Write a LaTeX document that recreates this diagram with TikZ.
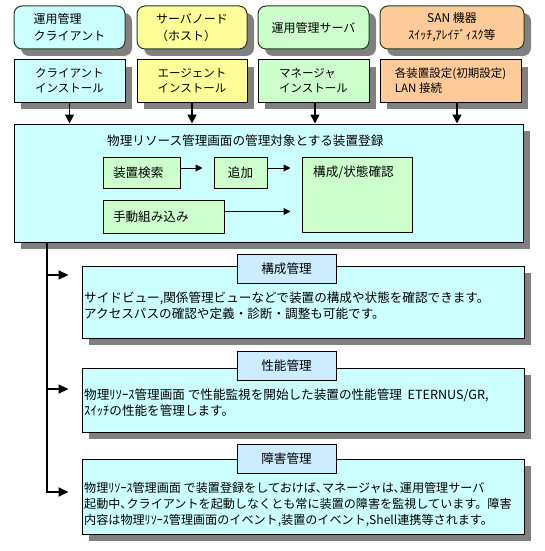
\documentclass[tikz,border=0pt]{standalone}
\usepackage{fontspec}
\setmainfont{Noto Sans CJK JP}
\usetikzlibrary{arrows.meta,shadows}
\definecolor{cyanbg}{HTML}{CCFFFF}
\definecolor{yelbg}{HTML}{FFFF99}
\definecolor{grnbg}{HTML}{CCFFCC}
\definecolor{orgbg}{HTML}{FFCC99}
\definecolor{tabbg}{HTML}{CCECFF}
\definecolor{shadowgray}{HTML}{808080}
\definecolor{rimgreen}{HTML}{1F3F1F}

\begin{document}
\begin{tikzpicture}[x=1pt,y=-1pt,
	shaded/.style={drop shadow={shadow xshift=7pt,shadow yshift=-7pt,fill=shadowgray,opacity=1}},
	role/.style={shaded,draw=rimgreen,line width=1pt,rounded corners=8pt,minimum height=43pt,align=left,font=\fontsize{12}{17}\selectfont},
	setup/.style={shaded,draw=black,line width=1pt,minimum height=42pt,align=left,font=\fontsize{11.5}{15}\selectfont},
	inbox/.style={draw=black,line width=1pt,fill=grnbg,align=left,inner xsep=10pt},
	tab/.style={draw=black,line width=1pt,fill=tabbg,minimum width=99pt,minimum height=29pt},
	toparr/.style={line width=1.5pt,-{Triangle[length=9pt,width=9pt]}},
	inarr/.style={line width=1pt,-{Triangle[length=7pt,width=7pt]},shorten >=11pt},
	secarr/.style={line width=2pt,-{Triangle[length=10pt,width=9pt]},shorten >=13pt}]
	\useasboundingbox (0,0) rectangle (544,551);
	\begin{scope}[font=\fontsize{12.6}{16}\selectfont]
		% roles
		\node[role,fill=cyanbg,minimum width=111pt] (cli) at (69.5,27.5) {運用管理\\クライアント};
		\node[role,fill=yelbg,minimum width=110pt] (host) at (192,27.5) {サーバノード\\（ホスト）};
		\node[role,fill=grnbg,minimum width=111pt] (mgr) at (313.5,27.5) {運用管理サーバ};
		\node[role,fill=orgbg,minimum width=144pt,align=center] (san) at (452,27.5) {SAN 機器\\ｽｲｯﾁ,ｱﾚｲﾃﾞｨｽｸ等};
		
		% installs
		\node[setup,fill=cyanbg,minimum width=111pt] (cli2) at (69.5,81) {クライアント\\インストール};
		\node[setup,fill=yelbg,minimum width=110pt] (host2) at (192,81) {エージェント\\インストール};
		\node[setup,fill=grnbg,minimum width=111pt] (mgr2) at (313.5,81) {マネージャ\\インストール};
		\node[setup,fill=orgbg,minimum width=141pt] (san2) at (450.5,81) {各装置設定(初期設定)\\LAN 接続};
		
		% registration
		\node[shaded,draw=black,line width=1pt,fill=cyanbg,minimum width=509pt,minimum height=118pt] (main) at (268.5,183) {};
		\node[anchor=west,inner sep=0pt] (regtitle) at (107,141) {物理リソース管理画面の管理対象とする装置登録};
		\node[inbox,text width=57pt,minimum height=31pt] (search) at (141.5,172.5) {装置検索};
		\node[inbox,text width=33pt,minimum height=31pt,align=center] (add) at (240.5,172.5) {追加};
		\node[inbox,text width=90pt,minimum height=75pt] (check) at (357,194.5) {};
		\node[anchor=west,inner sep=0pt] (checklbl) at (313,172) {構成/状態確認};
		\node[inbox,text width=101pt,minimum height=33pt] (manual) at (163.5,216.5) {手動組み込み};
		
		\draw[inarr] ([yshift=4.5pt]search.east) -- ([yshift=4.5pt]add.west);
		\draw[inarr] ([yshift=4.5pt]add.east) -- ([yshift=4.5pt]add.east -| check.west);
		\draw[inarr] ([yshift=5pt]manual.east) -- ([yshift=5pt]manual.east -| check.west);
		
		\draw[toparr] (cli2.south) -- (cli2.south |- main.north);
		\draw[toparr] (host2.south) -- (host2.south |- main.north);
		\draw[toparr] ([xshift=1.5pt]mgr2.south) -- ([xshift=1.5pt]mgr2.south |- main.north);
		\draw[toparr] ([xshift=6.5pt]san2.south) -- ([xshift=6.5pt]san2.south |- main.north);
		
		% management areas
		\begin{scope}[every node/.style={shaded,draw=black,line width=1pt,fill=cyanbg,minimum width=442pt}]
			\node[minimum height=72pt] (conf) at (303,302) {};
			\node[minimum height=64pt] (perf) at (303,400) {};
			\node[minimum height=75pt] (fault) at (303,496.5) {};
		\end{scope}
		\node[tab] (conftab) at (286.5,269) {構成管理};
		\node[tab] (perftab) at (286.5,366) {性能管理};
		\node[tab] (faulttab) at (286.5,459) {障害管理};
		
		\begin{scope}[every node/.style={anchor=north west,inner sep=0pt,align=left}]
			\node (conftxt) at (84,292) {サイドビュー,関係管理ビューなどで装置の構成や状態を確認できます。\\アクセスパスの確認や定義・診断・調整も可能です。};
			\node (perftxt) at (84,389) {物理ﾘｿｰｽ管理画面 で性能監視を開始した装置の性能管理\ \ ETERNUS/GR,\\ｽｲｯﾁの性能を管理します。};
			\node[font=\fontsize{12.1}{16}\selectfont] (faulttxt) at (84,482) {物理ﾘｿｰｽ管理画面 で装置登録をしておけば､マネージャは､運用管理サーバ\\起動中､クライアントを起動しなくとも常に装置の障害を監視しています。障害\\内容は物理ﾘｿｰｽ管理画面のイベント,装置のイベント,Shell連携等されます。};
		\end{scope}
		
		% trunk
		\coordinate (tap1) at (47,275);
		\coordinate (tap2) at (47,389);
		\coordinate (tap3) at (47,492);
		\draw[secarr] (main.south -| tap3) -- (tap3) -- (tap3 -| fault.west);
		\draw[secarr] (tap1) -- (tap1 -| conf.west);
		\draw[secarr] (tap2) -- (tap2 -| perf.west);
	\end{scope}
\end{tikzpicture}
\end{document}
